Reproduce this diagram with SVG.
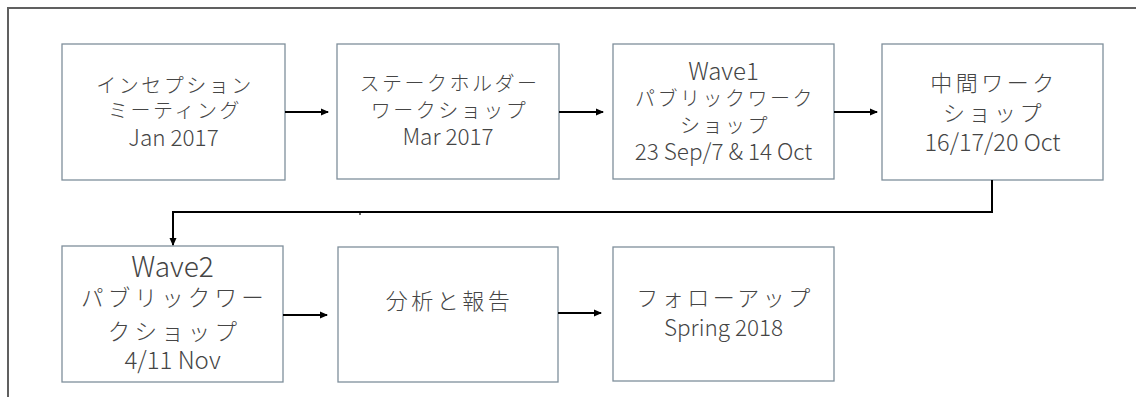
<svg xmlns="http://www.w3.org/2000/svg" width="1136" height="397" viewBox="0 0 1136 397">
<defs>
<style>
.box{fill:#ffffff;stroke:#7f8f9b;stroke-width:1.3}
.t{font-family:"Noto Sans CJK JP","Noto Sans",sans-serif;font-weight:300;fill:#454545;text-anchor:middle}
.j{font-size:20px;letter-spacing:2.5px}
.jl{font-size:22px;letter-spacing:3.5px}
.jx{font-size:22.5px;letter-spacing:4.2px}
.a{font-size:22.5px}
.al{font-size:23.5px}
.c{fill:none;stroke:#000;stroke-width:2}
</style>
<marker id="ah" markerWidth="8" markerHeight="8" refX="7" refY="4" orient="auto" markerUnits="userSpaceOnUse">
<path d="M0,0.5 L8,4 L0,7.5 Z" fill="#000"/>
</marker>
</defs>
<rect width="1136" height="397" fill="#ffffff"/>
<path d="M8,397 V8 H1136" fill="none" stroke="#606060" stroke-width="2"/>

<g id="n1">
<rect class="box" x="62" y="44" width="223" height="136"/>
<text class="t j" x="175" y="93">インセプション</text>
<text class="t j" x="175" y="118">ミーティング</text>
<text class="t a" x="173.5" y="146">Jan 2017</text>
</g>
<g id="n2">
<rect class="box" x="337" y="44" width="222" height="135"/>
<text class="t j" x="449.5" y="91">ステークホルダー</text>
<text class="t j" x="449.5" y="118">ワークショップ</text>
<text class="t a" x="448" y="145">Mar 2017</text>
</g>
<g id="n3">
<rect class="box" x="613" y="44" width="221" height="135"/>
<text class="t" style="font-size:24px" x="723.5" y="80">Wave1</text>
<text class="t j" x="725" y="106">パブリックワーク</text>
<text class="t j" x="725" y="133">ショップ</text>
<text class="t a" x="723.5" y="160">23 Sep/7 &amp; 14 Oct</text>
</g>
<g id="n4">
<rect class="box" x="882" y="44" width="221" height="136"/>
<text class="t jl" x="994" y="91">中間ワーク</text>
<text class="t jl" x="994" y="121">ショップ</text>
<text class="t al" x="992.5" y="151">16/17/20 Oct</text>
</g>
<g id="n5">
<rect class="box" x="62" y="246" width="221" height="136"/>
<text class="t" style="font-size:28px" x="172.5" y="277">Wave2</text>
<text class="t jx" x="174.5" y="306">パブリックワー</text>
<text class="t jx" x="174.5" y="340">クショップ</text>
<text class="t" style="font-size:24px" x="172.5" y="369">4/11 Nov</text>
</g>
<g id="n6">
<rect class="box" x="338" y="247" width="220" height="135"/>
<text class="t jl" x="449.5" y="309">分析と報告</text>
</g>
<g id="n7">
<rect class="box" x="613" y="247" width="221" height="134"/>
<text class="t jl" x="725" y="306">フォローアップ</text>
<text class="t a" x="723.5" y="336">Spring 2018</text>
</g>

<g id="connectors">
<line class="c" x1="285" y1="112" x2="328" y2="112" marker-end="url(#ah)"/>
<line class="c" x1="559" y1="112" x2="603" y2="112" marker-end="url(#ah)"/>
<line class="c" x1="834" y1="112" x2="877" y2="112" marker-end="url(#ah)"/>
<path class="c" d="M992,180 V212 H173 V245" marker-end="url(#ah)"/>
<line class="c" x1="283" y1="315" x2="327" y2="315" marker-end="url(#ah)"/>
<line class="c" x1="558" y1="313" x2="601" y2="313" marker-end="url(#ah)"/>
<line x1="360" y1="212" x2="360" y2="215" stroke="#000" stroke-width="1.2"/>
</g>
</svg>
